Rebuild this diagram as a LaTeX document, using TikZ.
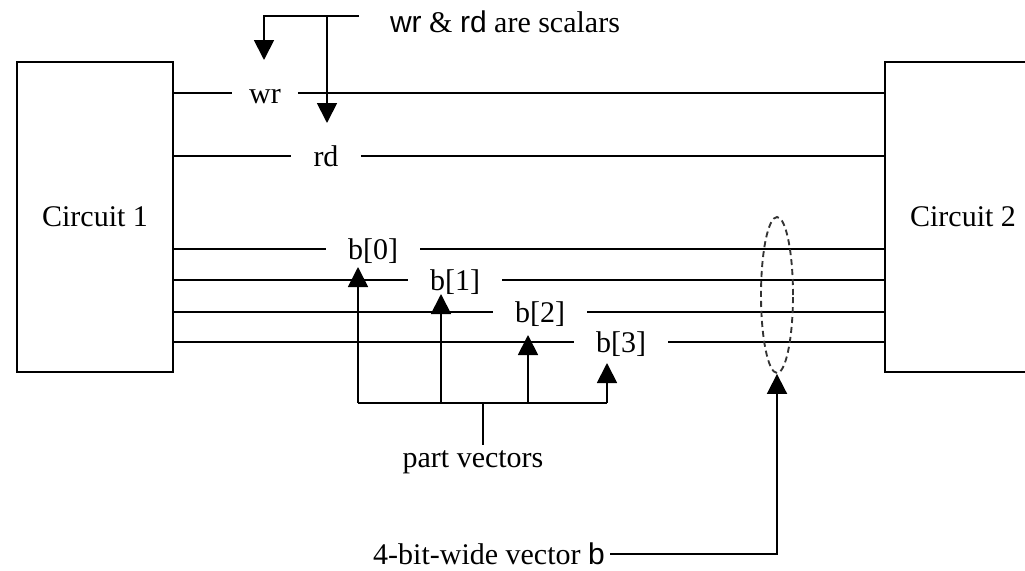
\documentclass[tikz,border=0pt]{standalone}
\usepackage{fontspec}
\setmainfont{Liberation Serif}
\newfontfamily\sansf{Liberation Sans}
\usetikzlibrary{arrows.meta,shapes.geometric}
\begin{document}
\begin{tikzpicture}[x=0.75pt,y=-0.75pt,line width=1.4pt,
  every node/.style={font=\fontsize{22.5}{27}\selectfont,text=black},
  box/.style={draw,rectangle,minimum width=117pt,minimum height=232.5pt,inner sep=0pt},
  sig/.style={inner xsep=16pt,inner ysep=0pt,text height=18pt,text depth=2.25pt,anchor=center},
  arr/.style={-{Triangle[width=15pt,length=15pt]}}]
\useasboundingbox (0,0) rectangle (1025,571);
\clip (0,0) rectangle (1025,571);

% boxes
\node[box] (c1) at (95,217) {Circuit 1};
\node[box] (c2) at (963,217) {Circuit 2};

% signal labels
\node[sig,inner xsep=12pt] (wr) at (265,93) {wr};
\node[sig] (rd) at (326,156) {rd};
\node[sig] (b0) at (373,249) {b[0]};
\node[sig] (b1) at (455,280) {b[1]};
\node[sig] (b2) at (540,312) {b[2]};
\node[sig] (b3) at (621,342) {b[3]};

% wires
\foreach \n in {wr,rd,b0,b1,b2,b3}{
  \draw (c1.east |- \n.west) -- (\n.west);
  \draw (\n.east) -- (c2.west |- \n.east);
}

% top annotation
\node (note) at (505,22) {{\sansf wr} \& {\sansf rd} are scalars};
\coordinate (n0) at (359,16);
\coordinate (n1) at (264,16);
\coordinate (n2) at (327,16);
\coordinate (tw) at (264,60);
\coordinate (trd) at (327,123);
\draw[arr] (n0) -- (n1) -- (tw);
\draw[arr] (n2) -- (trd);

% part vectors
\coordinate (p0) at (358,403);
\coordinate (p1) at (441,403);
\coordinate (p2) at (528,403);
\coordinate (p3) at (607,403);
\coordinate (pm) at (483,403);
\coordinate (q0) at (358,267);
\coordinate (q1) at (441,294);
\coordinate (q2) at (528,335);
\coordinate (q3) at (607,363);
\draw (p0) -- (p3);
\draw[arr] (p0) -- (q0);
\draw[arr] (p1) -- (q1);
\draw[arr] (p2) -- (q2);
\draw[arr] (p3) -- (q3);
\node (pv) at (473,462) {part vectors};
\draw (pm) -- (pm |- pv.north);

% vector b
\node[ellipse,draw,dashed,dash pattern=on 4.5pt off 3pt,line width=1.4pt,draw=black!80,
      minimum width=24pt,minimum height=117pt,inner sep=0pt] (ell) at (777,295) {};
\node (vb) at (489,554) {4-bit-wide vector {\sansf b}};
\draw[arr] (vb.east) -| (ell.south);
\end{tikzpicture}
\end{document}
